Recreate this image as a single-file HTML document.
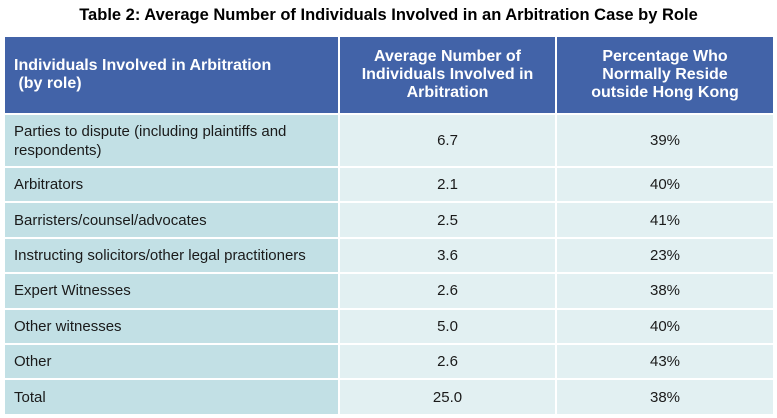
<!DOCTYPE html>
<html><head><meta charset="utf-8"><style>
body{margin:0;width:777px;height:418px;background:#fff;font-family:"Liberation Sans",Arial,sans-serif;position:relative;overflow:hidden}
.t{position:absolute;left:0;top:6px;width:777px;text-align:center;font-weight:bold;font-size:16.5px;color:#000}
.c{position:absolute;box-sizing:border-box;display:flex;align-items:center;font-size:15px;color:#1a1a1a}
.h{background:#4263a8;color:#fff;font-weight:bold;font-size:16px;line-height:18px}
.a{background:#c2e0e5;padding-left:9px;line-height:19px}
.b{background:#e2f0f2;justify-content:center}
</style></head><body>
<div class="t">Table 2: Average Number of Individuals Involved in an Arbitration Case by Role</div>
<div id="tb"></div>
<script>
const roles=["Parties to dispute (including plaintiffs and<br>respondents)","Arbitrators","Barristers/counsel/advocates","Instructing solicitors/other legal practitioners","Expert Witnesses","Other witnesses","Other","Total"];
const avgs=["6.7","2.1","2.5","3.6","2.6","5.0","2.6","25.0"];
const pcts=["39%","40%","41%","23%","38%","40%","43%","38%"];
const tb=document.getElementById('tb');
const X=[5,340,557,773];
function cell(cls,x,y,w,h,html,name){
  const d=document.createElement('div');
  d.className='c '+cls;
  d.style.left=x+'px';d.style.top=y+'px';d.style.width=w+'px';d.style.height=h+'px';
  d.innerHTML=html;
  
  
  tb.appendChild(d);
}
cell('h',X[0],37,X[1]-X[0]-2,76,'<div style="padding-left:9px">Individuals Involved in Arbitration<br>&nbsp;(by role)</div>','header-role');
cell('h',X[1],37,X[2]-X[1]-2,76,'<div style="width:100%;text-align:center">Average Number of<br>Individuals Involved in<br>Arbitration</div>','header-average');
cell('h',X[2],37,X[3]-X[2],76,'<div style="width:100%;text-align:center">Percentage Who<br>Normally Reside<br>outside Hong Kong</div>','header-percentage');
let y=115;
roles.forEach((r,i)=>{
  const h=i==0?51:33.4;
  cell('a',X[0],y,X[1]-X[0]-2,h,r,'role-cell');
  cell('b',X[1],y,X[2]-X[1]-2,h,avgs[i],'average-cell');
  cell('b',X[2],y,X[3]-X[2],h,pcts[i],'percentage-cell');
  y+=h+2;
});
</script>
</body></html>
